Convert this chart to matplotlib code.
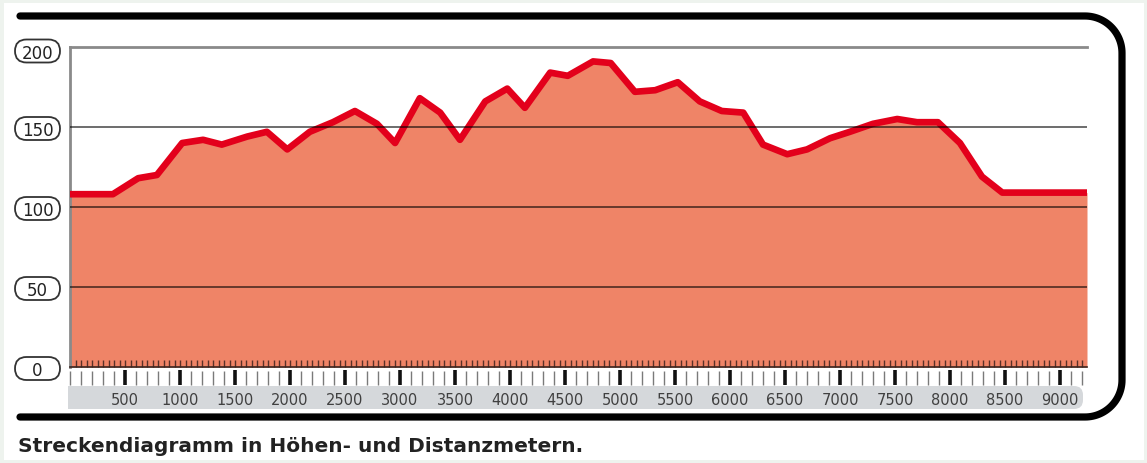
import numpy as np
import matplotlib
matplotlib.use("Agg")
import matplotlib.pyplot as plt
from matplotlib.patches import FancyBboxPatch, PathPatch, Rectangle
from matplotlib.path import Path
from matplotlib.ticker import MultipleLocator

# ---------------- data ----------------
distance = [0, 390, 620, 790, 1020, 1210, 1380, 1610, 1790, 1975, 2180, 2390,
            2590, 2790, 2955, 3180, 3365, 3545, 3775, 3975, 4135, 4365, 4525,
            4755, 4915, 5135, 5320, 5525, 5725, 5925, 6120, 6300, 6520, 6700,
            6910, 7090, 7300, 7520, 7700, 7890, 8090, 8290, 8475, 9245]
elevation = [108, 108, 118, 120, 140, 142, 139, 144, 147, 136, 147, 153,
             160, 152, 140, 168, 159, 142, 166, 174, 162, 184, 182,
             191, 190, 172, 173, 178, 166, 160, 159, 139, 133, 136,
             143, 147, 152, 155, 153, 153, 140, 119, 109, 109]
y_ticks = [0, 50, 100, 150, 200]
x_labels = list(range(500, 9001, 500))
caption = "Streckendiagramm in Höhen- und Distanzmetern."

# ---------------- figure ----------------
W, H = 1147, 464
fig = plt.figure(figsize=(W / 100, H / 100), dpi=100)
fig.patch.set_facecolor("white")


def px(x0, y0, x1, y1):
    return [x0 / W, 1 - y1 / H, (x1 - x0) / W, (y1 - y0) / H]


deco = fig.add_axes([0, 0, 1, 1], zorder=0)
deco.set_xlim(0, W)
deco.set_ylim(H, 0)
deco.axis("off")

ax = fig.add_axes(px(70, 48, 1087, 368), zorder=1)
ax.set_xlim(0, 9245)
ax.set_ylim(0, 200)
ax.set_facecolor("white")
ax.fill_between(distance, elevation, 0, color="#EF8467", lw=0, zorder=1)
ax.plot(distance, elevation, color="#E3001B", lw=4.8, solid_joinstyle="round",
        solid_capstyle="butt", zorder=3)

for v in y_ticks[1:-1]:
    ax.axhline(v, color="black", alpha=0.62, lw=1.3, zorder=4)
ax.axhline(200, color="#8a8a8a", lw=2, zorder=4, clip_on=False)

for s in ["top", "right"]:
    ax.spines[s].set_visible(False)
ax.spines["left"].set_color("#8a8a8a")
ax.spines["left"].set_linewidth(2)
ax.spines["bottom"].set_color("#3a2520")
ax.spines["bottom"].set_linewidth(1.2)
ax.set_xticks(np.arange(0, 9246, 50))
ax.tick_params(axis="x", direction="in", length=5, width=1, color="#5a3028",
               labelbottom=False)
ax.set_yticks(y_ticks)
ax.tick_params(axis="y", length=0, labelleft=False)

# ---------------- distance strip ----------------
strip = fig.add_axes(px(70, 372, 1087, 386), zorder=2)
strip.set_xlim(0, 9245)
strip.set_ylim(0, 1)
strip.patch.set_alpha(0)
for s in strip.spines.values():
    s.set_visible(False)
strip.set_xticks(x_labels)
strip.set_xticklabels([str(v) for v in x_labels])
strip.xaxis.set_minor_locator(MultipleLocator(100))
strip.tick_params(axis="x", which="major", direction="in", length=11, width=2.6,
                  color="#111111", labelsize=10.5, labelcolor="#404040", pad=5)
strip.tick_params(axis="x", which="minor", direction="in", length=10, width=1,
                  color="#7a7a7a")
strip.set_yticks([])

# grey band behind labels
deco.add_patch(FancyBboxPatch((68, 387), 1015, 23,
                              boxstyle="round,pad=0,rounding_size=9",
                              fc="#d5d8db", ec="none"))
deco.add_patch(Rectangle((68, 387), 30, 23, fc="#d5d8db", ec="none"))

# ---------------- y labels in pills ----------------
fig.canvas.draw()
for v in y_ticks:
    ydisp = ax.transData.transform((0, v))[1]
    yc = H - ydisp + (4 if v == 200 else 1.5)
    deco.add_patch(FancyBboxPatch((15, yc - 11.5), 45, 23,
                                  boxstyle="round,pad=0,rounding_size=11.5",
                                  fc="white", ec="#333333", lw=1.3))
    deco.text(37.5, yc, str(v), ha="center", va="center_baseline",
              fontsize=12, color="#222222")

# ---------------- frame ----------------
r = 37
t1 = np.linspace(-np.pi / 2, 0, 30)
t2 = np.linspace(0, np.pi / 2, 30)
top_y, right_x, bot_y, left_x = 17, 1122, 418, 20
pts = [(left_x, top_y)]
pts += list(zip(right_x - r + r * np.cos(t1), top_y + r + r * np.sin(t1)))
pts += list(zip(right_x - r + r * np.cos(t2), bot_y - r + r * np.sin(t2)))
pts += [(left_x, bot_y)]
deco.add_patch(PathPatch(Path(pts), fc="none", ec="black", lw=5.2,
                         capstyle="round", joinstyle="round"))

deco.add_patch(Rectangle((0, 0), W, H, fc="none", ec="#eef3ee", lw=5))

# ---------------- caption ----------------
deco.text(18, 452, caption, fontsize=14.5, fontweight="bold", color="#222222",
          va="baseline", ha="left")

fig.savefig("out.png", dpi=100, facecolor="white")
